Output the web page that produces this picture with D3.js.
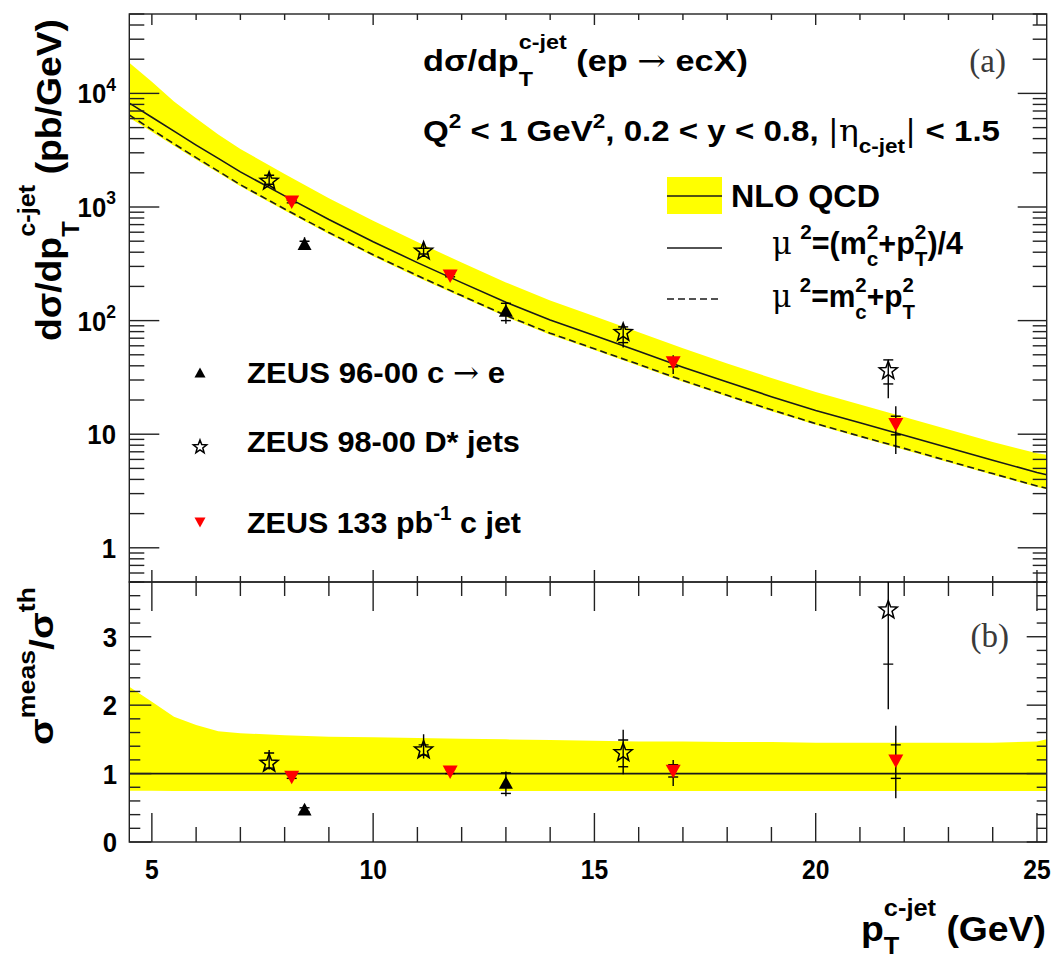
<!DOCTYPE html>
<html><head><meta charset="utf-8">
<script src="https://cdn.jsdelivr.net/npm/d3@7"></script>
<style>
html,body{margin:0;padding:0;background:#fff;}
svg text{white-space:pre;}
</style></head>
<body>
<svg id="chart" width="1051" height="963"></svg>
<script>
// ---- NLO QCD prediction, sampled in pT (GeV) ----
const theoryPt      = [4.49, 5, 5.5, 6, 6.5, 7, 8, 9, 10, 11, 12, 13, 14, 15, 16, 17, 18, 19, 20, 21, 22, 23, 24, 25, 25.22];
const nloCentral    = [8220, 6170, 4650, 3510, 2680, 2040, 1253, 776, 495, 324, 216, 145, 101, 74, 53.7, 38.9, 28.8, 21.4, 16.2, 12.6, 9.8, 7.6, 5.9, 4.6, 4.4];
const nloAltScale   = [6450, 4800, 3600, 2720, 2070, 1570, 960, 596, 380, 249, 166, 111, 77.5, 56.5, 41.2, 29.8, 22, 16.4, 12.4, 9.6, 7.5, 5.8, 4.5, 3.5, 3.35];
const nloBandUp     = [18600, 12650, 8500, 6040, 4340, 3240, 1955, 1195, 757, 492, 324, 217, 150, 109.5, 79, 57.2, 42, 31.2, 23.5, 18.3, 14.2, 11.0, 8.55, 6.8, 6.6];
const nloBandDown   = [6120, 4600, 3460, 2615, 2000, 1520, 933, 578, 369, 241, 161, 108, 75.2, 55.1, 40, 29, 21.5, 15.9, 12.1, 9.4, 7.3, 5.66, 4.4, 3.43, 3.28];
const ratioBandUp   = [2.27, 2.05, 1.83, 1.71, 1.62, 1.59, 1.56, 1.54, 1.53, 1.52, 1.51, 1.50, 1.49, 1.48, 1.47, 1.47, 1.46, 1.46, 1.45, 1.45, 1.45, 1.45, 1.45, 1.47, 1.50];
const ratioBandDown = [0.75, 0.75, 0.745, 0.745, 0.745, 0.745, 0.745, 0.745, 0.745, 0.745, 0.745, 0.745, 0.745, 0.745, 0.745, 0.745, 0.745, 0.745, 0.745, 0.745, 0.745, 0.745, 0.745, 0.745, 0.745];

// ---- ZEUS 96-00 c -> e ----
const semilepPt        = [8.45, 13.0];
const semilepXsec      = [469, 121];
const semilepXsecStat  = [[440, 500], [100, 142]];
const semilepXsecTot   = [[420, 541], [94, 145]];
const semilepRatio     = [0.47, 0.86];
const semilepRatioStat = [[0.44, 0.50], [0.71, 1.01]];
const semilepRatioTot  = [[0.42, 0.54], [0.67, 1.03]];

// ---- ZEUS 98-00 D* jets ----
const dstarPt        = [7.65, 11.14, 15.65, 21.64];
const dstarXsec      = [1686, 409, 78.6, 36.2];
const dstarXsecStat  = [[1585, 1905], [386, 432], [64, 88], [27.7, 45.1]];
const dstarXsecTot   = [[1553, 1972], [371, 479], [58, 92], [20.7, 45.1]];
const dstarRatio     = [1.15, 1.345, 1.305, 3.39];
const dstarRatioStat = [[1.08, 1.30], [1.27, 1.42], [1.10, 1.49], [2.60, 4.22]];
const dstarRatioTot  = [[1.06, 1.345], [1.22, 1.575], [0.99, 1.64], [1.94, 4.22]];

// ---- ZEUS 133 pb-1 c jet ----
const cjetPt        = [8.16, 11.74, 16.78, 21.81];
const cjetXsec      = [1117, 250, 42.9, 12.3];
const cjetXsecStat  = [[1088, 1146], [243, 257], [39.2, 46.7], [9.87, 14.4]];
const cjetXsecTot   = [[1053, 1181], [235, 265], [33.8, 49.6], [6.7, 17.6]];
const cjetRatio     = [0.955, 1.03, 1.04, 1.19];
const cjetRatioStat = [[0.93, 0.98], [1.0, 1.06], [0.95, 1.13], [0.93, 1.42]];
const cjetRatioTot  = [[0.90, 1.01], [0.97, 1.09], [0.82, 1.20], [0.64, 1.70]];

// ---- axis ticks ----
const xMajorTicks = [5, 10, 15, 20, 25];
const xMinorTicks = [5, 6, 7, 8, 9, 10, 11, 12, 13, 14, 15, 16, 17, 18, 19, 20, 21, 22, 23, 24, 25];
const logDecades  = [0.1, 1, 10, 100, 1000, 10000];
const logLabels   = [[1, "1", null], [10, "10", null], [100, "10", "2"], [1000, "10", "3"], [10000, "10", "4"]];
const ratioMajor  = [0, 1, 2, 3];
const ratioMinor  = [0, 0.2, 0.4, 0.6, 0.8, 1, 1.2, 1.4, 1.6, 1.8, 2, 2.2, 2.4, 2.6, 2.8, 3, 3.2, 3.4, 3.6, 3.8];

const SANS = "'Liberation Sans', Arial, Helvetica, sans-serif";
const SERIF = "'Liberation Serif', 'DejaVu Serif', serif";
const SYM = "'DejaVu Serif', 'Liberation Serif', serif";
const YELLOW = "#ffff00", RED = "#ff0000", INK = "#1a1a1a";

const svg = d3.select("#chart");
svg.append("rect").attr("width", 1051).attr("height", 963).attr("fill", "#fff");

const L = 129.3, R = 1046.7, T = 14, M = 582, B = 842;
const x = d3.scaleLinear().domain([4.49, 25.22]).range([L, R]);
const yTop = d3.scaleLog().domain([0.5, 5e4]).range([M, T]);
const yBot = d3.scaleLinear().domain([0, 3.8]).range([B, M]);

const defs = svg.append("defs");
defs.append("clipPath").attr("id", "clipTop").append("rect").attr("x", L).attr("y", T).attr("width", R - L).attr("height", M - T);
defs.append("clipPath").attr("id", "clipBot").append("rect").attr("x", L).attr("y", M).attr("width", R - L).attr("height", B - M);

const gTop = svg.append("g").attr("clip-path", "url(#clipTop)");
const gBot = svg.append("g").attr("clip-path", "url(#clipBot)");
const idx = d3.range(theoryPt.length);

// ---- bands and curves ----
gTop.append("path")
  .attr("d", d3.area().x(i => x(theoryPt[i])).y0(i => yTop(nloBandDown[i])).y1(i => yTop(nloBandUp[i]))(idx))
  .attr("fill", YELLOW);
gTop.append("path")
  .attr("d", d3.line().x(i => x(theoryPt[i])).y(i => yTop(nloCentral[i]))(idx))
  .attr("fill", "none").attr("stroke", INK).attr("stroke-width", 1.6);
gTop.append("path")
  .attr("d", d3.line().x(i => x(theoryPt[i])).y(i => yTop(nloAltScale[i]))(idx))
  .attr("fill", "none").attr("stroke", INK).attr("stroke-width", 1.6).attr("stroke-dasharray", "7,4");

gBot.append("path")
  .attr("d", d3.area().x(i => x(theoryPt[i])).y0(i => yBot(ratioBandDown[i])).y1(i => yBot(ratioBandUp[i]))(idx))
  .attr("fill", YELLOW);
gBot.append("line").attr("x1", L).attr("x2", R).attr("y1", yBot(1)).attr("y2", yBot(1))
  .attr("stroke", INK).attr("stroke-width", 1.6);

// ---- frames and ticks ----
const axes = svg.append("g").attr("stroke", "#222").attr("stroke-width", 1.4).attr("fill", "none");
axes.append("rect").attr("x", L).attr("y", T).attr("width", R - L).attr("height", M - T);
axes.append("rect").attr("x", L).attr("y", M).attr("width", R - L).attr("height", B - M);

function tick(x1, y1, x2, y2) {
  axes.append("line").attr("x1", x1).attr("y1", y1).attr("x2", x2).attr("y2", y2);
}
xMinorTicks.forEach(v => {
  const px = x(v), major = xMajorTicks.includes(v);
  tick(px, T, px, T + (major ? 11 : 6));
  tick(px, M, px, M - (major ? 12 : 6));
  tick(px, M, px, M + (major ? 29 : 14));
  tick(px, B, px, B - (major ? 29 : 15));
});
logDecades.forEach(d => {
  for (let k = 1; k <= 9; k++) {
    const v = k * d;
    if (v < 0.5 || v > 5e4) continue;
    const py = yTop(v), major = k === 1;
    tick(L, py, L + (major ? 30 : 15), py);
    tick(R, py, R - (major ? 29 : 14), py);
  }
});
ratioMinor.forEach(v => {
  const py = yBot(v), major = ratioMajor.includes(v);
  tick(L, py, L + (major ? 22 : 11), py);
  tick(R, py, R - (major ? 20 : 10), py);
});

// ---- rich text helper (sub/superscripts, optional width fit or squeeze) ----
function rich(parent, pieces, o) {
  const size = o.size, fam = o.family || SANS, wt = o.weight || "bold", fill = o.fill || "#000";
  const outer = parent.append("g");
  const inner = outer.append("g");
  let cx = 0;
  const put = (txt, px, py, sz, f, w) => {
    const t = inner.append("text").attr("x", px).attr("y", py)
      .attr("font-family", f).attr("font-weight", w).attr("font-size", sz).attr("fill", fill)
      .text(txt.replace(/ /g, "\u00a0"));
    return t.node().getComputedTextLength();
  };
  pieces.forEach(p => {
    const f = p.f || fam, w = p.w || wt;
    if (p.t !== undefined) {
      cx += put(p.t, cx, 0, size * (p.s || 1), f, w);
    } else {
      let wmax = 0;
      if (p.sup !== undefined) wmax = Math.max(wmax, put(p.sup, cx, -size * (p.up || 0.42), size * (p.ss || 0.68), f, w));
      if (p.sub !== undefined) wmax = Math.max(wmax, put(p.sub, cx, size * (p.dn || 0.3), size * (p.ss || 0.68), f, w));
      cx += wmax;
    }
  });
  const sx = o.fit ? o.fit / cx : (o.sx || 1);
  const off = o.anchor === "end" ? -cx * sx : o.anchor === "middle" ? -cx * sx / 2 : 0;
  outer.attr("transform", `translate(${o.x},${o.y}) rotate(${o.rot || 0}) translate(${off},0) scale(${sx},1)`);
  return outer;
}

const labels = svg.append("g");

// tick labels
xMajorTicks.forEach(v => rich(labels, [{t: String(v)}], {x: x(v), y: 879, size: 28, anchor: "middle", sx: 0.88}));
logLabels.forEach(([v, base, exp]) => {
  const pcs = [{t: base}];
  if (exp) pcs.push({sup: exp, up: 0.45});
  rich(labels, pcs, {x: 116, y: yTop(v) + 10, size: 28, anchor: "end", sx: 0.92});
});
ratioMajor.forEach(v => rich(labels, [{t: String(v)}], {x: 117, y: yBot(v) + 10, size: 28, anchor: "end", sx: 0.92}));

// axis titles
rich(labels, [{t: "d\u03c3/dp"}, {sub: "T", sup: "c-jet", up: 0.72, dn: 0.5}, {t: " (pb/GeV)"}],
  {x: 61, y: 180, size: 36, anchor: "middle", rot: -90, fit: 322});
rich(labels, [{t: "\u03c3"}, {sup: "meas", up: 0.53}, {t: "/\u03c3"}, {sup: "th", up: 0.53}],
  {x: 53, y: 666, size: 34, anchor: "middle", rot: -90, fit: 158});
rich(labels, [{t: "p"}, {sub: "T", sup: "c-jet", up: 0.7, dn: 0.36}, {t: " (GeV)"}],
  {x: 1046, y: 941, size: 36, anchor: "end", fit: 185});

// panel titles
rich(labels, [{t: "d\u03c3/dp"}, {sub: "T", sup: "c-jet", up: 0.72, dn: 0.5}, {t: " (ep "},
  {t: "\u2192", f: SYM, w: "normal"}, {t: " ecX)"}], {x: 423, y: 71, size: 30, fit: 325});
rich(labels, [{t: "Q"}, {sup: "2"}, {t: " < 1 GeV"}, {sup: "2"}, {t: ", 0.2 < y < 0.8, "},
  {t: "|\u03b7", f: SYM, w: "normal"}, {sub: "c-jet", dn: 0.4}, {t: "|", f: SYM, w: "normal"}, {t: " < 1.5"}],
  {x: 423, y: 141, size: 30, fit: 577});
labels.append("text").attr("x", 1006).attr("y", 72).attr("text-anchor", "end")
  .attr("font-family", SERIF).attr("font-size", 33).attr("fill", "#3a3a3a").text("(a)");
labels.append("text").attr("x", 1009).attr("y", 647).attr("text-anchor", "end")
  .attr("font-family", SERIF).attr("font-size", 33).attr("fill", "#3a3a3a").text("(b)");

// ---- theory legend ----
const leg = svg.append("g");
leg.append("rect").attr("x", 667).attr("y", 177).attr("width", 55).attr("height", 37).attr("fill", YELLOW);
leg.append("line").attr("x1", 667).attr("x2", 722).attr("y1", 196).attr("y2", 196).attr("stroke", INK).attr("stroke-width", 1.6);
rich(leg, [{t: "NLO QCD"}], {x: 731, y: 207, size: 31, fit: 149});
leg.append("line").attr("x1", 667).attr("x2", 722).attr("y1", 248).attr("y2", 248).attr("stroke", INK).attr("stroke-width", 1.6);
rich(leg, [{t: "\u03bc", f: SYM, w: "normal"}, {t: " "}, {sup: "2", up: 0.48}, {t: "=(m"}, {sub: "c", sup: "2", up: 0.48, dn: 0.38},
  {t: "+p"}, {sub: "T", sup: "2", up: 0.48, dn: 0.38}, {t: ")/4"}], {x: 772, y: 254, size: 31, fit: 191});
leg.append("line").attr("x1", 667).attr("x2", 722).attr("y1", 299).attr("y2", 299).attr("stroke", INK).attr("stroke-width", 1.6)
  .attr("stroke-dasharray", "7,4");
rich(leg, [{t: "\u03bc", f: SYM, w: "normal"}, {t: " "}, {sup: "2", up: 0.48}, {t: "=m"}, {sub: "c", sup: "2", up: 0.48, dn: 0.38},
  {t: "+p"}, {sub: "T", sup: "2", up: 0.48, dn: 0.38}], {x: 772, y: 307, size: 31, fit: 143});

// ---- markers ----
const triUpPath = s => `M0,${-s}L${s},${s * 0.8}L${-s},${s * 0.8}Z`;
const triDownPath = s => `M0,${s}L${s},${-s * 0.8}L${-s},${-s * 0.8}Z`;
const starPath = (ro, ri) => {
  let d = "";
  for (let k = 0; k < 10; k++) {
    const r = k % 2 ? ri : ro, a = -Math.PI / 2 + k * Math.PI / 5;
    d += (k ? "L" : "M") + (r * Math.cos(a)).toFixed(2) + "," + (r * Math.sin(a)).toFixed(2);
  }
  return d + "Z";
};
function marker(g, kind, px, py, s) {
  const m = g.append("path").attr("transform", `translate(${px},${py})`);
  if (kind === "up") m.attr("d", triUpPath(s)).attr("fill", "#000");
  else if (kind === "down") m.attr("d", triDownPath(s)).attr("fill", RED);
  else m.attr("d", starPath(s, s * 0.42)).attr("fill", "none").attr("stroke", "#000").attr("stroke-width", 1.5).attr("stroke-linejoin", "miter");
}

function series(g, ys, pts, vals, stat, tot, kind, size) {
  pts.forEach((p, i) => {
    const px = x(p);
    g.append("line").attr("x1", px).attr("x2", px).attr("y1", ys(tot[i][0])).attr("y2", ys(tot[i][1]))
      .attr("stroke", "#000").attr("stroke-width", 1.4);
    stat[i].forEach(v => g.append("line").attr("x1", px - 5).attr("x2", px + 5).attr("y1", ys(v)).attr("y2", ys(v))
      .attr("stroke", "#000").attr("stroke-width", 1.4));
    marker(g, kind, px, ys(vals[i]), size);
  });
}

const dTop = svg.append("g").attr("clip-path", "url(#clipTop)");
const dBot = svg.append("g").attr("clip-path", "url(#clipBot)");
series(dTop, yTop, dstarPt, dstarXsec, dstarXsecStat, dstarXsecTot, "star", 9.5);
series(dTop, yTop, semilepPt, semilepXsec, semilepXsecStat, semilepXsecTot, "up", 7);
series(dTop, yTop, cjetPt, cjetXsec, cjetXsecStat, cjetXsecTot, "down", 7.5);
series(dBot, yBot, dstarPt, dstarRatio, dstarRatioStat, dstarRatioTot, "star", 9.5);
series(dBot, yBot, semilepPt, semilepRatio, semilepRatioStat, semilepRatioTot, "up", 7);
series(dBot, yBot, cjetPt, cjetRatio, cjetRatioStat, cjetRatioTot, "down", 7.5);

// ---- data legend ----
const dleg = svg.append("g");
marker(dleg, "up", 200, 373, 5.5);
rich(dleg, [{t: "ZEUS 96-00 c "}, {t: "\u2192", f: SYM, w: "normal"}, {t: " e"}], {x: 247, y: 383, size: 30, fit: 258});
marker(dleg, "star", 200, 447, 7);
rich(dleg, [{t: "ZEUS 98-00 D* jets"}], {x: 247, y: 452, size: 30, fit: 273});
marker(dleg, "down", 200, 522, 5.5);
rich(dleg, [{t: "ZEUS 133 pb"}, {sup: "-1", up: 0.45}, {t: " c jet"}], {x: 247, y: 533, size: 30, fit: 274});
</script>
</body></html>
